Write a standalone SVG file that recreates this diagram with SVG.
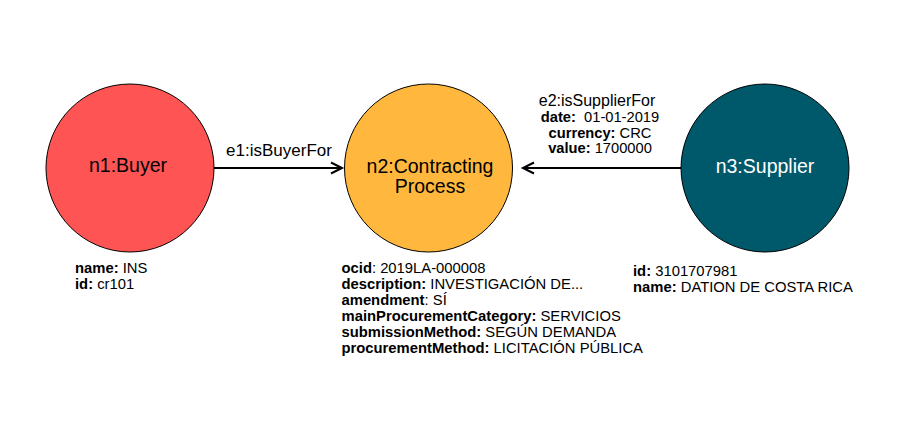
<svg xmlns="http://www.w3.org/2000/svg" width="922" height="429" viewBox="0 0 922 429">
<style>
text{font-family:"Liberation Sans",Arial,sans-serif;fill:#000}
.node{stroke:#000;stroke-width:1}
.lbl{font-size:19.5px;text-anchor:middle}
.edge{stroke:#000;stroke-width:2;fill:none}
.el{font-size:17px;text-anchor:middle}
.prop{font-size:14.8px;white-space:pre}
.pc{font-size:14.7px;text-anchor:middle;white-space:pre}
.b{font-weight:bold}
</style>
<defs>
<marker id="open" markerWidth="14" markerHeight="14" refX="11" refY="6" orient="auto" markerUnits="userSpaceOnUse" overflow="visible">
<path d="M0,0.5 L11,6 L0,11.5" fill="none" stroke="#000" stroke-width="2"/>
</marker>
</defs>
<rect width="922" height="429" fill="#fff"/>
<g id="connectors">
<g id="e1">
<line class="edge" x1="214" y1="168" x2="342" y2="168" marker-end="url(#open)"/>
<text class="el" x="279" y="156">e1:isBuyerFor</text>
</g>
<g id="e2">
<line class="edge" x1="681" y1="168" x2="523" y2="168" marker-end="url(#open)"/>
<text x="597" y="105.5" style="font-size:16px;text-anchor:middle">e2:isSupplierFor</text>
<text class="pc" x="600" y="121.5"><tspan class="b">date:</tspan>  01-01-2019</text>
<text class="pc" x="600" y="137.5"><tspan class="b">currency:</tspan> CRC</text>
<text class="pc" x="600" y="153"><tspan class="b">value:</tspan> 1700000</text>
</g>
</g>
<g id="n1">
<circle class="node" cx="130" cy="168" r="84" fill="#FF5454"/>
<text class="lbl" x="128" y="172">n1:Buyer</text>
<text class="prop" x="75" y="272.5"><tspan class="b">name:</tspan> INS</text>
<text class="prop" x="75" y="288.5"><tspan class="b">id:</tspan> cr101</text>
</g>
<g id="n2">
<circle class="node" cx="428.5" cy="168" r="84" fill="#FFB83D"/>
<text class="lbl" x="430" y="173">n2:Contracting</text>
<text class="lbl" x="430" y="193">Process</text>
<text class="prop" x="341.5" y="272.5"><tspan class="b">ocid</tspan>: 2019LA-000008</text>
<text class="prop" x="341.5" y="288.5"><tspan class="b">description:</tspan> INVESTIGACIÓN DE...</text>
<text class="prop" x="341.5" y="304.5"><tspan class="b">amendment</tspan>: SÍ</text>
<text class="prop" x="341.5" y="320.5"><tspan class="b">mainProcurementCategory:</tspan> SERVICIOS</text>
<text class="prop" x="341.5" y="336.5"><tspan class="b">submissionMethod:</tspan> SEGÚN DEMANDA</text>
<text class="prop" x="341.5" y="352.5"><tspan class="b">procurementMethod:</tspan> LICITACIÓN PÚBLICA</text>
</g>
<g id="n3">
<circle class="node" cx="765" cy="168" r="84" fill="#00596B"/>
<text class="lbl" x="765" y="173" style="fill:#fff">n3:Supplier</text>
<text class="prop" x="633" y="276"><tspan class="b">id:</tspan> 3101707981</text>
<text class="prop" x="633" y="292"><tspan class="b">name:</tspan> DATION DE COSTA RICA</text>
</g>
</svg>
